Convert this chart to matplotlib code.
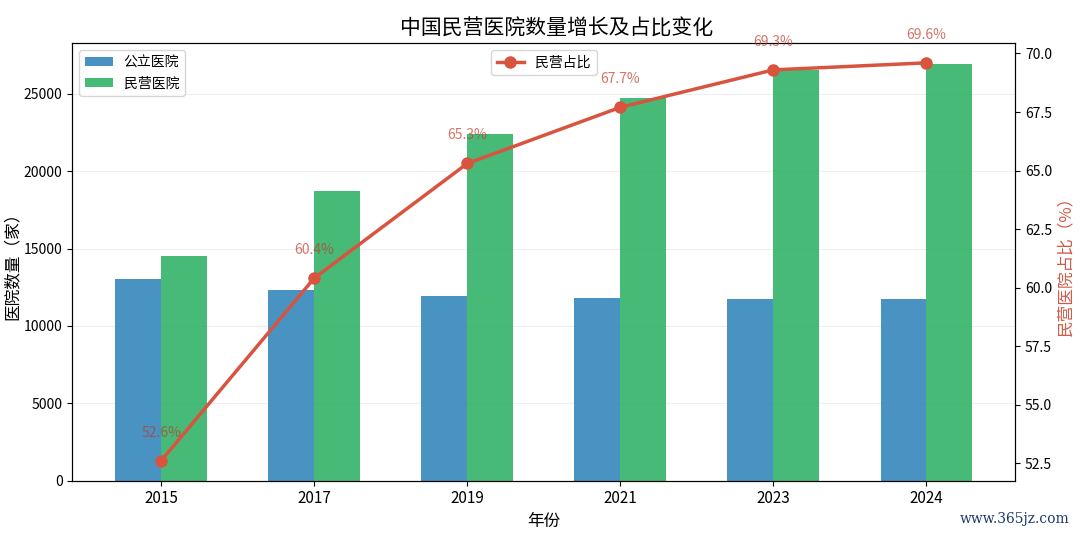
import matplotlib.pyplot as plt
import numpy as np

plt.rcParams['font.family'] = ['Noto Sans CJK SC', 'DejaVu Sans']
plt.rcParams['axes.unicode_minus'] = False

years = ['2015', '2017', '2019', '2021', '2023', '2024']
public_hospitals = [13069, 12297, 11930, 11804, 11772, 11754]
private_hospitals = [14518, 18759, 22424, 24766, 26583, 26956]
private_share = [52.6, 60.4, 65.3, 67.7, 69.3, 69.6]

x = np.arange(len(years))
width = 0.3

fig, ax = plt.subplots(figsize=(10.8, 5.37), dpi=100)
fig.subplots_adjust(left=0.067, right=0.94, top=0.92, bottom=0.105)

ax.bar(x - width / 2, public_hospitals, width, color='#2980b9', alpha=0.85, label='公立医院')
ax.bar(x + width / 2, private_hospitals, width, color='#27ae60', alpha=0.85, label='民营医院')
ax.set_ylim(0, 28300)
ax.set_xticks(x)
ax.set_xticklabels(years, fontsize=11)
ax.tick_params(axis='y', labelsize=10)
ax.set_xlabel('年份', fontsize=12)
ax.set_ylabel('医院数量（家）', fontsize=12, labelpad=2)
ax.grid(axis='y', linestyle='-', alpha=0.2)
ax.set_axisbelow(True)
ax.legend(loc='upper left', fontsize=10)

ax2 = ax.twinx()
ax2.plot(x, private_share, color='#d9543f', marker='o', markersize=8,
         linewidth=2.5, label='民营占比')
for xi, v in zip(x, private_share):
    ax2.text(xi, v + 1.2, f'{v}%', ha='center', va='center', fontsize=10,
             color='#c0392b', alpha=0.7)
ax2.set_ylabel('民营医院占比（%）', fontsize=12, color='#cf5a48')
ax2.tick_params(axis='y', labelsize=10)
ax2.legend(loc='upper center', fontsize=10)

ax.set_title('中国民营医院数量增长及占比变化', fontsize=15, pad=6, x=0.514)

fig.text(0.99, 0.02, 'www.365jz.com', ha='right', va='bottom', fontsize=10,
         color='#1f3a6e', family='DejaVu Serif')

fig.savefig('out.png', dpi=100)
